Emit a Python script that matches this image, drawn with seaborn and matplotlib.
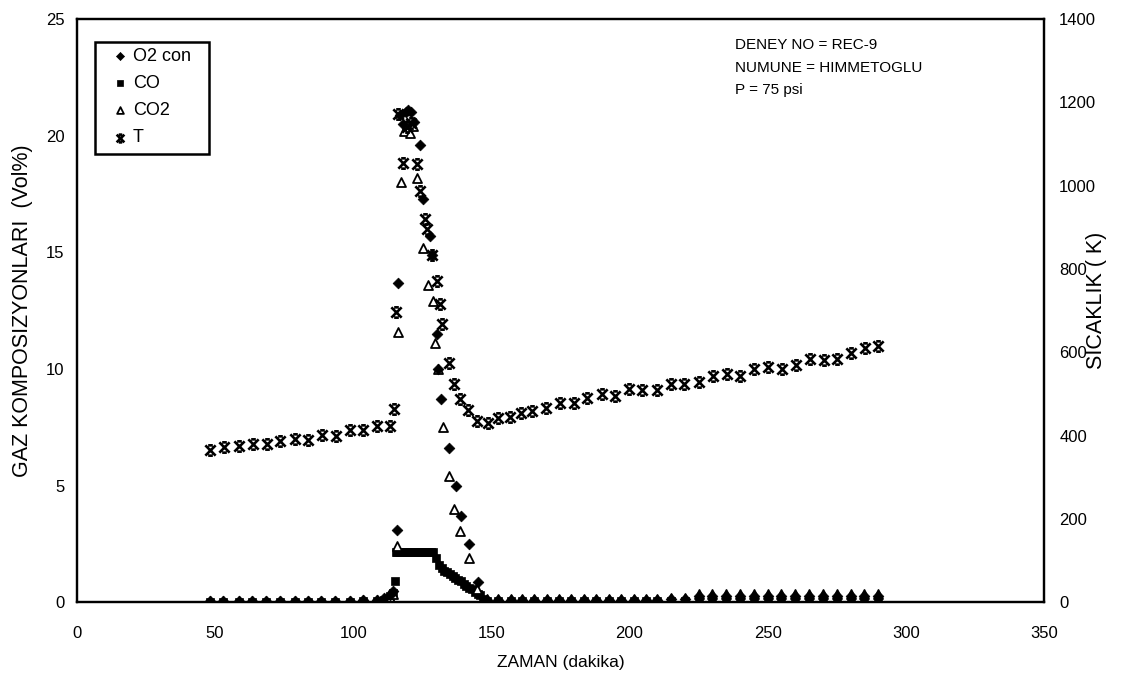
import matplotlib
matplotlib.use("Agg")
import matplotlib.pyplot as plt
from matplotlib.path import Path
from matplotlib.patches import Rectangle
import pandas as pd
import seaborn as sns

# ---------------- data ----------------
t_o2 = [48, 53, 58.5, 63.5, 68.5, 73.5, 79, 83.5, 88.5, 93.5, 99, 103.5, 108.5, 111, 113.5,
        114.5, 115.8, 116.3, 117, 118, 119, 120, 121, 122, 124.2, 125.4, 127.8, 128.4,
        130.2, 130.8, 131.6, 134.7, 137.1, 138.9, 142, 145.3,
        148.5, 152.5, 157, 161, 165.5, 170, 174.5, 179, 183.5, 188, 192.5, 197, 201.5, 206,
        210, 215, 220, 225, 230, 235, 240, 245, 250, 255, 260, 265, 270, 275, 280, 285, 290]
o2 = [0.05, 0.05, 0.05, 0.05, 0.05, 0.05, 0.05, 0.05, 0.05, 0.05, 0.05, 0.08, 0.1, 0.2, 0.3,
      0.5, 3.1, 13.7, 20.9, 20.5, 21.0, 21.1, 21.0, 20.6, 19.6, 17.3, 15.7, 14.9,
      11.5, 10.0, 8.7, 6.6, 5.0, 3.7, 2.5, 0.85,
      0.1, 0.1, 0.1, 0.1, 0.1, 0.1, 0.1, 0.1, 0.1, 0.1, 0.1, 0.1, 0.1, 0.1,
      0.1, 0.12, 0.12, 0.25, 0.25, 0.25, 0.25, 0.25, 0.25, 0.25, 0.25, 0.25, 0.25, 0.25, 0.25, 0.25, 0.25]

t_co = [48, 53, 58.5, 63.5, 68.5, 73.5, 79, 83.5, 88.5, 93.5, 99, 103.5, 108.5, 111, 113.5,
        114.5, 115.2, 115.6, 116, 117, 118, 119, 120, 121, 122, 123, 124, 125, 126, 127, 128, 129,
        130, 131, 132, 133, 134, 135, 136, 137, 138, 139, 140, 141, 142, 143, 144, 145, 146, 147,
        148.5, 152.5, 157, 161, 165.5, 170, 174.5, 179, 183.5, 188, 192.5, 197, 201.5, 206,
        210, 215, 220, 225, 230, 235, 240, 245, 250, 255, 260, 265, 270, 275, 280, 285, 290]
co = [0.03, 0.03, 0.03, 0.03, 0.03, 0.03, 0.03, 0.03, 0.03, 0.03, 0.03, 0.05, 0.05, 0.1, 0.25,
      0.4, 0.9, 2.15, 2.15, 2.15, 2.15, 2.15, 2.15, 2.15, 2.15, 2.15, 2.15, 2.15, 2.15, 2.15, 2.15, 2.15,
      1.9, 1.6, 1.45, 1.35, 1.28, 1.2, 1.12, 1.05, 0.97, 0.9, 0.8, 0.7, 0.62, 0.55, 0.45, 0.37, 0.3, 0.12,
      0.05, 0.05, 0.05, 0.05, 0.05, 0.05, 0.05, 0.05, 0.05, 0.05, 0.05, 0.05, 0.05, 0.05,
      0.05, 0.05, 0.05, 0.05, 0.05, 0.05, 0.05, 0.05, 0.05, 0.05, 0.05, 0.05, 0.05, 0.05, 0.05, 0.05, 0.05]

t_co2 = [48, 53, 58.5, 63.5, 68.5, 73.5, 79, 83.5, 88.5, 93.5, 99, 103.5, 108.5, 111, 113.5,
         114.5, 115.9, 116.3, 117.2, 118.5, 119.5, 120.5, 121.5, 123.2, 125.2, 127.2, 129, 129.6,
         130.8, 132.4, 134.5, 136.6, 138.7, 141.9, 144.8,
         148.5, 152.5, 157, 161, 165.5, 170, 174.5, 179, 183.5, 188, 192.5, 197, 201.5, 206,
         210, 215, 220, 225, 230, 235, 240, 245, 250, 255, 260, 265, 270, 275, 280, 285, 290]
co2 = [0.05, 0.05, 0.05, 0.05, 0.05, 0.05, 0.05, 0.05, 0.05, 0.05, 0.05, 0.08, 0.1, 0.15, 0.2,
       0.35, 2.4, 11.6, 18.0, 20.2, 20.5, 20.1, 20.4, 18.2, 15.2, 13.6, 12.9, 11.1,
       10.0, 7.5, 5.4, 4.0, 3.05, 1.9, 0.55,
       0.15, 0.15, 0.15, 0.15, 0.15, 0.15, 0.15, 0.15, 0.15, 0.15, 0.15, 0.15, 0.15, 0.15,
       0.15, 0.2, 0.2, 0.35, 0.35, 0.35, 0.35, 0.35, 0.35, 0.35, 0.35, 0.35, 0.35, 0.35, 0.35, 0.35, 0.35]

t_T = [48.2, 53.4, 58.5, 63.7, 68.7, 73.6, 78.8, 83.6, 88.7, 93.6, 98.8, 103.6, 108.7, 113.3,
       114.7, 115.5, 116.2, 117.9, 119.5, 121, 123, 124.2, 126, 126.6, 128.4, 130.2, 131.4, 132.2,
       134.5, 136.5, 138.7, 141.7, 144.7, 148.7, 152.5, 156.6, 160.8, 164.7, 169.9, 175, 179.8,
       184.7, 189.9, 194.7, 199.8, 204.7, 209.9, 215, 219.8, 225, 230.1, 235.2, 240, 245.2, 250,
       255.3, 260.1, 265.4, 270.3, 275.1, 280.1, 285.1, 290]
T = [365, 373, 374, 380, 381, 387, 393, 390, 401, 400, 413, 413, 424, 424,
     464, 696, 1171, 1055, 1140, 1150, 1052, 987, 919, 895, 833, 771, 715, 667,
     575, 523, 488, 462, 434, 430, 443, 445, 455, 459, 467, 479, 478,
     490, 499, 496, 511, 510, 510, 523, 524, 529, 544, 548, 544, 559, 565,
     560, 570, 583, 582, 583, 599, 610, 614]

x_ticks = [0, 50, 100, 150, 200, 250, 300, 350]
y_ticks = [0, 5, 10, 15, 20, 25]
t_ticks = [0, 200, 400, 600, 800, 1000, 1200, 1400]
labels = ["O2 con", "CO", "CO2", "T"]
notes = ["DENEY NO = REC-9", "NUMUNE = HIMMETOGLU", "P = 75 psi"]

# ---------------- style ----------------
sns.set_theme(style="white")
plt.rcParams['font.family'] = ['Liberation Sans', 'DejaVu Sans']
plt.rcParams['text.color'] = 'black'
plt.rcParams['axes.labelcolor'] = 'black'

# custom "x with bars" marker for temperature
t_marker = Path([(-1, -1), (1, 1), (-1, 1), (1, -1), (-0.45, 1), (0.45, 1), (-0.45, -1), (0.45, -1)],
                [Path.MOVETO, Path.LINETO] * 4)

W, H = 1131, 679
fig = plt.figure(figsize=(W / 100, H / 100), dpi=100)
ax = fig.add_axes([0.068, 0.113, 0.855, 0.859])
ax2 = ax.twinx()

df_o2 = pd.DataFrame({"t": t_o2, "v": o2})
df_co = pd.DataFrame({"t": t_co, "v": co})
df_co2 = pd.DataFrame({"t": t_co2, "v": co2})
df_T = pd.DataFrame({"t": t_T, "v": T})

sns.scatterplot(data=df_co, x="t", y="v", ax=ax, marker="s", s=32, color="black",
                edgecolor="black", linewidth=0.5, label=labels[1], legend=False, zorder=3)
sns.scatterplot(data=df_co2, x="t", y="v", ax=ax, marker="^", s=42, facecolor="white",
                edgecolor="black", linewidth=1.3, label=labels[2], legend=False, zorder=4)
sns.scatterplot(data=df_o2, x="t", y="v", ax=ax, marker="D", s=30, color="black",
                edgecolor="black", linewidth=0.5, label=labels[0], legend=False, zorder=5)
sns.scatterplot(data=df_T, x="t", y="v", ax=ax2, marker=t_marker, s=55, color="black",
                edgecolor="black", linewidth=1.9, label=labels[3], legend=False, zorder=5)

ax.set_xlim(0, 350)
ax.set_ylim(0, 25)
ax2.set_ylim(0, 1400)
ax.set_xticks(x_ticks)
ax.set_yticks(y_ticks)
ax2.set_yticks(t_ticks)

for spine in list(ax.spines.values()) + list(ax2.spines.values()):
    spine.set_color("black")
    spine.set_linewidth(1.6)

ax.tick_params(axis="both", length=0, labelsize=12, colors="black")
ax.tick_params(axis="y", pad=9)
ax.tick_params(axis="x", pad=17)
ax2.tick_params(axis="y", length=0, labelsize=12, colors="black", pad=11)

ax.set_xlabel("ZAMAN (dakika)", fontsize=12.5, color="black")
ax.set_ylabel("GAZ KOMPOSIZYONLARI  (Vol%)", fontsize=15.5, color="black")
ax2.set_ylabel("SICAKLIK ( K)", fontsize=15.5, color="black")
ax.xaxis.set_label_coords(0.5, -0.09)
ax.yaxis.set_label_coords(-0.045, 0.5)
ax2.yaxis.set_label_coords(1.044, 0.518)

# legend combining both axes (frame drawn as a plain box like the original)
h1, l1 = ax.get_legend_handles_labels()
h2, l2 = ax2.get_legend_handles_labels()
hmap = dict(zip(l1 + l2, h1 + h2))
box = Rectangle((95 / W, 1 - 154 / H), 114 / W, 112 / H, transform=fig.transFigure,
                facecolor="white", edgecolor="black", linewidth=1.8, zorder=8, clip_on=False)
ax2.add_artist(box)
leg = ax2.legend([hmap[l] for l in labels], labels, loc="upper left",
                 bbox_to_anchor=(111 / W, 1 - 48 / H), bbox_transform=fig.transFigure,
                 frameon=False, fontsize=13, handletextpad=0.2, handlelength=1.0,
                 labelspacing=0.56, borderpad=0, markerscale=0.75, borderaxespad=0,
                 labelcolor="black")
leg.set_zorder(10)

for i, txt in enumerate(notes):
    fig.text(735 / W, 1 - (45 + 22.5 * i) / H, txt, ha="left", va="center",
             fontsize=11, color="black")

fig.savefig("out.png", dpi=100)
